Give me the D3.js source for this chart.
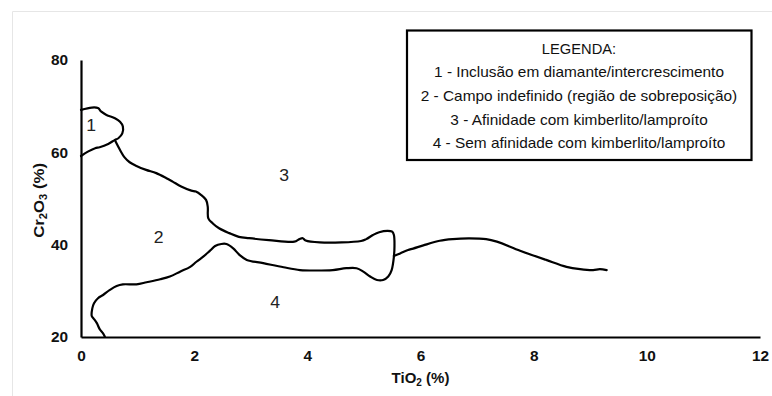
<!DOCTYPE html>
<html>
<head>
<meta charset="utf-8">
<script src="https://cdn.jsdelivr.net/npm/d3@7"></script>
<style>
  html, body { margin: 0; padding: 0; background: #fff; }
  svg { display: block; font-family: "Liberation Sans", Arial, sans-serif; }
</style>
</head>
<body>
<svg id="chart" width="772" height="396"></svg>
<script>
// Axis ticks
const xTicks = [0, 2, 4, 6, 8, 10, 12];
const yTicks = [20, 40, 60, 80];

// Field boundaries, [TiO2 %, Cr2O3 %]
const field1Boundary = [
  [0, 69.2], [0.19, 69.7], [0.30, 69.6], [0.36, 68.8], [0.45, 68.1], [0.60, 67.4],
  [0.69, 66.65], [0.74, 65.6], [0.73, 64.1], [0.66, 63.05], [0.60, 62.7], [0.48, 61.8],
  [0.33, 61.1], [0.25, 60.9], [0.13, 60.2], [0, 59.2]
];

const field2Boundary = [
  [0.60, 62.6], [0.69, 60.5], [0.77, 58.9], [0.86, 57.85], [0.98, 57.05], [1.15, 56.2],
  [1.33, 55.5], [1.51, 54.4], [1.62, 53.65], [1.77, 52.6], [1.95, 51.7], [2.03, 51.5],
  [2.12, 50.8], [2.21, 49.7], [2.24, 48.2], [2.25, 45.7], [2.33, 44.6], [2.44, 43.55],
  [2.62, 42.5], [2.79, 41.7], [2.97, 41.4], [3.32, 41.0], [3.77, 40.65], [3.86, 41.2],
  [3.92, 41.4], [3.97, 40.9], [4.22, 40.5], [4.95, 40.8], [5.04, 41.2], [5.16, 42.1],
  [5.27, 42.7], [5.42, 43.0], [5.50, 42.8], [5.53, 42.1], [5.54, 39.6], [5.53, 37.4],
  [5.49, 34.5], [5.43, 33.1], [5.34, 32.35], [5.23, 32.35], [5.11, 33.1], [4.99, 34.15],
  [4.87, 34.9], [4.69, 34.9], [4.45, 34.5], [4.16, 34.4], [3.87, 34.5], [3.58, 35.1],
  [3.22, 36.0], [2.93, 36.7], [2.80, 37.8], [2.69, 39.2], [2.57, 40.15], [2.48, 40.15],
  [2.37, 39.7], [2.28, 38.7], [2.16, 37.4], [2.04, 36.3], [1.93, 35.2], [1.75, 34.15],
  [1.57, 33.1], [1.40, 32.5], [1.16, 31.85], [0.98, 31.4], [0.74, 31.4], [0.63, 31.05],
  [0.51, 30.2], [0.39, 29.1], [0.30, 28.4], [0.23, 27.3], [0.20, 26.2], [0.19, 24.55],
  [0.22, 24.05], [0.28, 23.0], [0.33, 21.7], [0.39, 20.8], [0.42, 20.1]
];

const field3Tail = [
  [5.53, 37.55], [5.64, 38.1], [5.78, 38.85], [5.87, 39.15], [6.05, 39.85], [6.34, 40.85],
  [6.57, 41.2], [6.85, 41.35], [7.16, 41.2], [7.35, 40.65], [7.76, 38.7], [8.22, 36.7],
  [8.58, 35.2], [8.82, 34.7], [9.05, 34.5], [9.17, 34.7], [9.29, 34.5]
];

// Field numbers placed inside each region
const fieldLabels = ["1", "2", "3", "4"];
const fieldLabelX = [0.18, 1.37, 3.59, 3.43];
const fieldLabelY = [65.9, 41.5, 54.9, 27.6];

// Legend text
const legendTitle = "LEGENDA:";
const legendItems = [
  "1 - Inclusão em diamante/intercrescimento",
  "2 - Campo indefinido (região de sobreposição)",
  "3 - Afinidade com kimberlito/lamproíto",
  "4 - Sem afinidade com kimberlito/lamproíto"
];

const FONT = "Liberation Sans, Arial, sans-serif";
const TEXT = "#111";
const STRETCH = 1.1; // glyphs are drawn slightly wide

const svg = d3.select("#chart");

// Light frame along top and left edges
svg.append("line").attr("x1", 12.5).attr("x2", 772).attr("y1", 11.5).attr("y2", 11.5)
  .attr("stroke", "#e6e6e6").attr("stroke-width", 1);
svg.append("line").attr("x1", 12.5).attr("x2", 12.5).attr("y1", 11.5).attr("y2", 396)
  .attr("stroke", "#e6e6e6").attr("stroke-width", 1);

const x = d3.scaleLinear().domain([0, 12]).range([81, 760]);
const y = d3.scaleLinear().domain([20, 80]).range([337, 60]);

// Axes (lines only, bold tick labels)
const xAxis = d3.axisBottom(x).tickValues(xTicks).tickSize(0).tickFormat(d3.format("d"));
const yAxis = d3.axisLeft(y).tickValues(yTicks).tickSize(0).tickFormat(d3.format("d"));

const gx = svg.append("g").attr("transform", `translate(0,${y(20)})`).call(xAxis);
const gy = svg.append("g").attr("transform", `translate(${x(0)},0)`).call(yAxis);

[gx, gy].forEach(g => {
  g.select(".domain").attr("stroke", "#000").attr("stroke-width", 2.2);
  g.selectAll("text").attr("font-family", FONT)
    .attr("font-size", 14).attr("font-weight", "bold").attr("fill", TEXT);
});
gx.selectAll("text").attr("y", 0).attr("dy", 0)
  .attr("transform", `translate(0,24) scale(${STRETCH},1)`);
gy.selectAll("text").attr("x", 0).attr("dy", "0.35em")
  .attr("transform", `translate(-13,0) scale(${STRETCH},1)`);

// Boundaries
const line = d3.line()
  .x(d => x(d[0]))
  .y(d => y(d[1]))
  .curve(d3.curveCatmullRom.alpha(0.5));

[field1Boundary, field2Boundary, field3Tail].forEach(pts => {
  svg.append("path")
    .attr("d", line(pts))
    .attr("fill", "none")
    .attr("stroke", "#000")
    .attr("stroke-width", 2.2)
    .attr("stroke-linejoin", "round")
    .attr("stroke-linecap", "round");
});

// Field numbers
svg.append("g").selectAll("text")
  .data(fieldLabels)
  .join("text")
  .attr("transform", (d, i) => `translate(${x(fieldLabelX[i])},${y(fieldLabelY[i])}) scale(${STRETCH},1)`)
  .attr("dy", "0.35em")
  .attr("text-anchor", "middle")
  .attr("font-size", 16)
  .attr("fill", "#222")
  .text(d => d);

// Axis titles
const xTitle = svg.append("text")
  .attr("transform", `translate(${x(6)},383)`)
  .attr("text-anchor", "middle")
  .attr("font-size", 15).attr("font-weight", "bold").attr("fill", TEXT);
xTitle.append("tspan").text("TiO");
xTitle.append("tspan").attr("font-size", 10).attr("dy", 3).text("2");
xTitle.append("tspan").attr("dy", -3).text(" (%)");

const yTitle = svg.append("text")
  .attr("transform", `translate(44,${y(49.6)}) rotate(-90) scale(1.12,1)`)
  .attr("text-anchor", "middle")
  .attr("font-size", 15).attr("font-weight", "bold").attr("fill", TEXT);
yTitle.append("tspan").text("Cr");
yTitle.append("tspan").attr("font-size", 10).attr("dy", 3).text("2");
yTitle.append("tspan").attr("dy", -3).text("O");
yTitle.append("tspan").attr("font-size", 10).attr("dy", 3).text("3");
yTitle.append("tspan").attr("dy", -3).text(" (%)");

// Legend box
const legend = svg.append("g");
legend.append("rect")
  .attr("x", 407).attr("y", 30.5)
  .attr("width", 344.5).attr("height", 129.5)
  .attr("fill", "#fff").attr("stroke", "#000").attr("stroke-width", 2.2);

const legendCx = 579;
legend.append("text")
  .attr("transform", `translate(${legendCx},49) scale(1.05,1)`)
  .attr("dy", "0.35em")
  .attr("text-anchor", "middle").attr("font-size", 14).attr("fill", TEXT)
  .text(legendTitle);

legend.selectAll("text.item")
  .data(legendItems)
  .join("text")
  .attr("class", "item")
  .attr("transform", (d, i) => `translate(${legendCx},${72 + i * 23.8}) scale(${STRETCH},1)`)
  .attr("dy", "0.35em")
  .attr("text-anchor", "middle")
  .attr("font-size", 14)
  .attr("fill", TEXT)
  .text(d => d);
</script>
</body>
</html>
